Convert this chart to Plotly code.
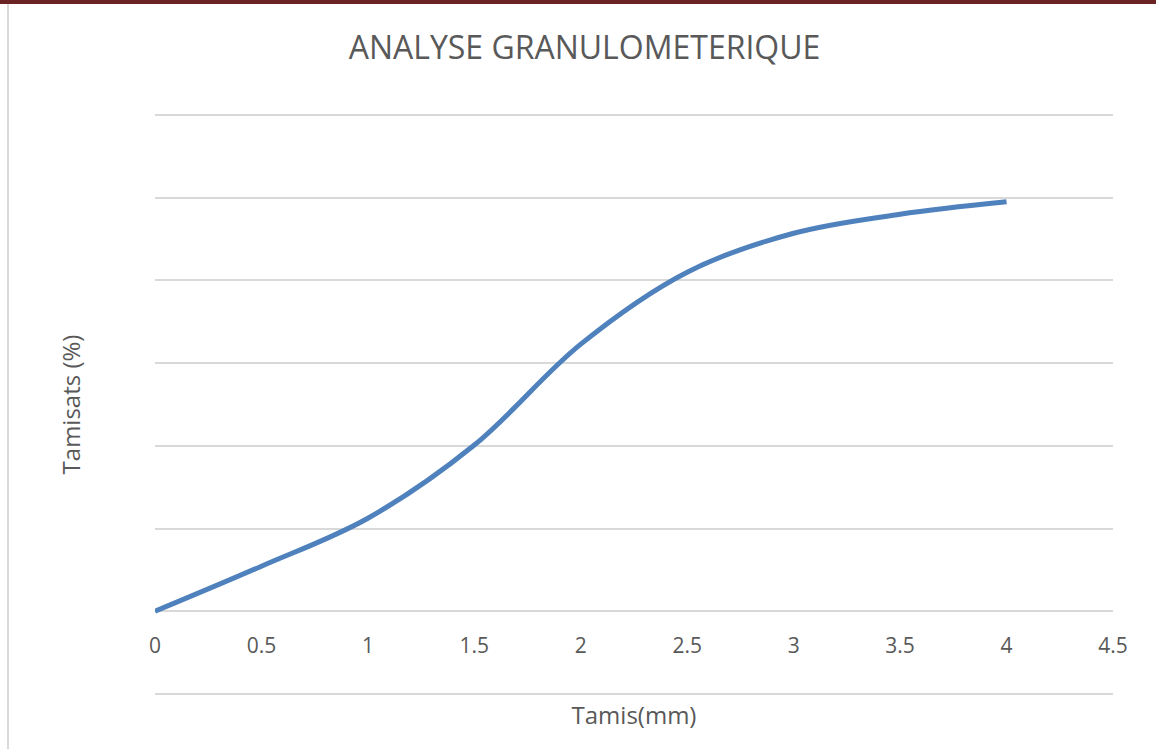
import plotly.graph_objects as go

# Data
tamis_mm = [0, 0.5, 1, 1.5, 2, 2.5, 3, 3.5, 4]
tamisats_pct = [0, 10.9, 22.5, 40.2, 64.6, 82.0, 91.4, 96.0, 99.0]

x_ticks = [0, 0.5, 1, 1.5, 2, 2.5, 3, 3.5, 4, 4.5]
x_tick_labels = ["0", "0.5", "1", "1.5", "2", "2.5", "3", "3.5", "4", "4.5"]
y_min, y_max = -20, 120

W, H = 1156, 749
PAD = 2  # extra px so the edge gridlines are drawn inside the plot area
ML, MR, MT, MB = 155, 43, 115 - PAD, 55 - PAD
PW, PH = W - ML - MR, H - MT - MB
unit_per_px = (y_max - y_min) / (PH - 2 * PAD)
y_range = [y_min - PAD * unit_per_px, y_max + PAD * unit_per_px]

def px_x(p):
    return (p - ML) / PW

def px_y(p):
    return 1 - (p - MT) / PH

FONT = "Open Sans"
TXT = "#595959"

fig = go.Figure()
fig.add_trace(go.Scatter(
    x=tamis_mm, y=tamisats_pct, mode="lines",
    line=dict(color="#4F81BD", width=5, shape="spline", smoothing=1.0),
    showlegend=False, hoverinfo="x+y",
))

zero_pos = (0 - y_range[0]) / (y_range[1] - y_range[0])

fig.update_layout(
    width=W, height=H,
    margin=dict(l=ML, r=MR, t=MT, b=MB),
    paper_bgcolor="white", plot_bgcolor="white",
    font=dict(family=FONT, color=TXT),
    title=dict(text="ANALYSE GRANULOMETERIQUE", xref="container", x=584.5 / W,
               xanchor="center", yref="container", y=1 - 48 / H, yanchor="middle",
               font=dict(family=FONT, size=32, color=TXT)),
    xaxis=dict(range=[0, 4.5], tickvals=x_ticks, ticktext=x_tick_labels,
               anchor="free", position=zero_pos, showgrid=False, zeroline=False,
               showline=False, ticks="", tickfont=dict(size=21, color=TXT),
               ticklabelstandoff=20,
               title=dict(text="Tamis(mm)", font=dict(size=24, color=TXT), standoff=48)),
    yaxis=dict(range=y_range, tickvals=list(range(y_min, y_max + 1, 20)),
               showticklabels=False, showgrid=True,
               gridcolor="#d9d9d9", gridwidth=1.5, zeroline=False, showline=False,
               ticks="",
               title=dict(text="Tamisats (%)", font=dict(size=24, color=TXT), standoff=66)),
    shapes=[
        dict(type="rect", xref="paper", yref="paper",
             x0=px_x(0), x1=px_x(W), y0=px_y(4), y1=px_y(0),
             fillcolor="#6B2323", line=dict(width=0), layer="above"),
        dict(type="line", xref="paper", yref="paper",
             x0=px_x(8), x1=px_x(8), y0=px_y(4), y1=px_y(H),
             line=dict(color="#d9d9d9", width=2)),
    ],
)

fig.write_html("out.html", config={"displayModeBar": False},
               post_script="document.body.style.margin='0';")
